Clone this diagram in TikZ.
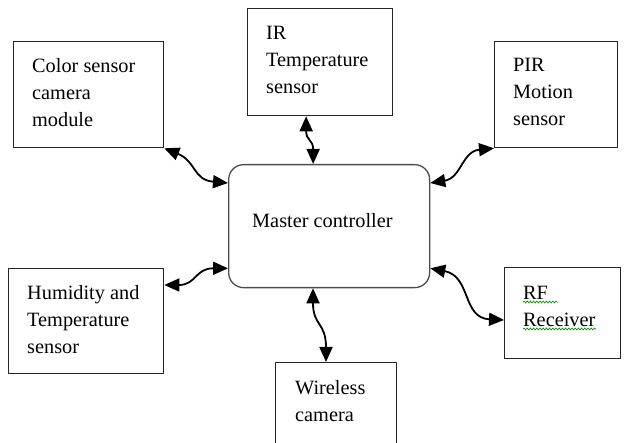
\documentclass[tikz,border=0pt]{standalone}
\usepackage{fontspec}
\setmainfont{Liberation Serif}
\usetikzlibrary{arrows.meta,decorations.pathmorphing}
% left-aligned lines whose baseline is the first line's
\newcommand{\textlines}[1]{\vtop{#1}}
\begin{document}
\begin{tikzpicture}[x=1pt,y=-1pt,
  box/.style={draw=black!85, line width=1.3pt, inner sep=0pt, anchor=north west},
  ctrl/.style={draw=black!70, line width=1.3pt, rounded corners=15pt, inner sep=0pt, anchor=north west},
  txt/.style={anchor=base west, inner sep=0pt, font=\fontsize{20.3}{26.8}\selectfont},
  link/.style={line width=1.8pt, {Triangle[length=15pt,width=13pt]}-{Triangle[length=15pt,width=13pt]}},
  spell/.style={draw=green!60!black, line width=0.7pt, decorate,
    decoration={snake, amplitude=0.9pt, segment length=3.2pt}}
]
\useasboundingbox (0,0) rectangle (625,443);
\clip (0,0) rectangle (625,443);

% sensor and peripheral boxes
\node[box, minimum width=150pt, minimum height=106pt] (color) at (13,41) {};
\node[box, minimum width=145pt, minimum height=107pt] (ir)    at (247,8) {};
\node[box, minimum width=123pt, minimum height=106pt] (pir)   at (494,41) {};
\node[box, minimum width=155pt, minimum height=105pt] (hum)   at (8,268) {};
\node[box, minimum width=116pt, minimum height=91pt]  (rf)    at (504,267) {};
\node[box, minimum width=121pt, minimum height=100pt] (wcam)  at (275,362) {};

% central controller
\node[ctrl, minimum width=201pt, minimum height=123pt] (master) at (228,164) {};

% box texts
\node[txt] (colort)  at ([shift={(19,32)}]color.north west)
  {\textlines{\hbox{Color sensor}\hbox{camera}\hbox{module}}};
\node[txt] (irt)     at ([shift={(19,32)}]ir.north west)
  {\textlines{\hbox{IR}\hbox{Temperature}\hbox{sensor}}};
\node[txt] (pirt)    at ([shift={(19,31)}]pir.north west)
  {\textlines{\hbox{PIR}\hbox{Motion}\hbox{sensor}}};
\node[txt] (humt)    at ([shift={(19,32)}]hum.north west)
  {\textlines{\hbox{Humidity and}\hbox{Temperature}\hbox{sensor}}};
\node[txt] (rft)     at ([shift={(19,33)}]rf.north west)
  {\textlines{\hbox{RF}\hbox{Receiver}}};
\node[txt] (wcamt)   at ([shift={(20,33)}]wcam.north west)
  {\textlines{\hbox{Wireless}\hbox{camera}}};
\node[txt] (mastert) at ([shift={(24,64)}]master.north west) {Master controller};

% spell-check underlines
\draw[spell] ([shift={(19,35)}]rf.north west) -- ([shift={(54,35)}]rf.north west);
\draw[spell] ([shift={(19,62)}]rf.north west) -- ([shift={(92,62)}]rf.north west);

% curved two-way links
\draw[link] (color.south east) .. controls +(32,13) and +(-35,-3) .. ([shift={(0,19)}]master.north west);
\draw[link] (pir.south west) .. controls +(-32,3) and +(31,-5) .. ([shift={(0,19)}]master.north east);
\draw[link] ([shift={(-14,0)}]ir.south) .. controls +(0,25) and +(0,-25) .. ([shift={(-16,0)}]master.north);
\draw[link] ([shift={(0,17)}]hum.north east) .. controls +(32,0) and +(-33,0) .. ([shift={(0,-20)}]master.south west);
\draw[link] ([shift={(0,-20)}]master.south east) .. controls +(41,8) and +(-42,-2) .. ([shift={(0,53)}]rf.north west);
\draw[link] ([shift={(85,0)}]master.south west) .. controls +(0,38) and +(0,-40) .. ([shift={(51,0)}]wcam.north west);
\end{tikzpicture}
\end{document}
